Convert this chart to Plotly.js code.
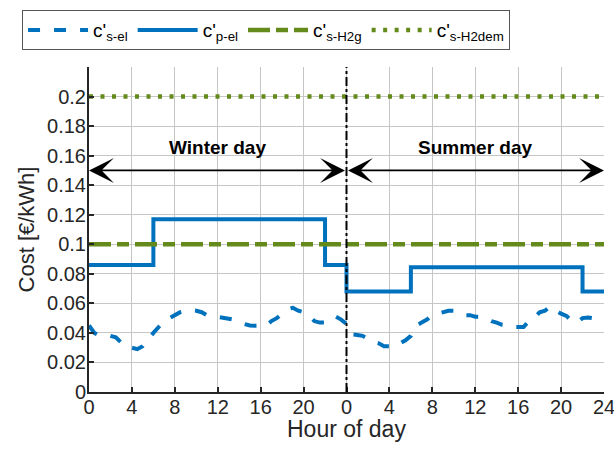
<!DOCTYPE html>
<html>
<head>
<meta charset="utf-8">
<script src="https://cdn.plot.ly/plotly-3.0.1.min.js"></script>
<style>html,body{margin:0;padding:0;background:#fff;}#chart{width:614px;height:458px;}</style>
</head>
<body>
<div id="chart"></div>
<script>
// ---- data ----
const halfHours = [0,0.5,1,1.5,2,2.5,3,3.5,4,4.5,5,5.5,6,6.5,7,7.5,8,8.5,9,9.5,10,10.5,11,11.5,
                   12,12.5,13,13.5,14,14.5,15,15.5,16,16.5,17,17.5,18,18.5,19,19.5,20,20.5,21,21.5,22,22.5,23,23.5];
const winterSpotEl = [0.045,0.040,0.038,0.038,0.038,0.037,0.033,0.030,0.030,0.029,0.031,0.035,
                      0.040,0.044,0.048,0.050,0.052,0.054,0.055,0.0555,0.055,0.054,0.052,0.0515,
                      0.051,0.0505,0.050,0.049,0.047,0.046,0.045,0.0448,0.0447,0.0447,0.048,0.050,
                      0.053,0.056,0.057,0.055,0.054,0.052,0.048,0.047,0.047,0.050,0.051,0.049];
const summerSpotEl = [0.046,0.039,0.0386,0.038,0.036,0.034,0.033,0.031,0.031,0.0305,0.033,0.035,
                      0.038,0.045,0.047,0.049,0.052,0.053,0.054,0.055,0.055,0.053,0.052,0.052,
                      0.051,0.051,0.050,0.048,0.047,0.0455,0.045,0.044,0.044,0.044,0.048,0.050,
                      0.054,0.055,0.058,0.055,0.053,0.0515,0.048,0.047,0.050,0.0505,0.050,0.045];
const dayLength = 24;
const peakHours = [0,6,22,24,30,46,48];
const peakEl = [0.086,0.117,0.086,0.068,0.0845,0.068,0.068];
const spotH2g = 0.1;
const spotH2dem = 0.2;
const tickHours = [0,4,8,12,16,20,24,28,32,36,40,44,48];
const tickHourLabels = ['0','4','8','12','16','20','0','4','8','12','16','20','24'];
const costTicks = [0,0.02,0.04,0.06,0.08,0.1,0.12,0.14,0.16,0.18,0.2];
const costTickLabels = ['0','0.02','0.04','0.06','0.08','0.1','0.12','0.14','0.16','0.18','0.2'];
const arrowLevel = 0.15;
const dayLabels = ['Winter day','Summer day'];
const dayLabelLevel = 0.1652;
const xTitle = 'Hour of day';
const yTitle = 'Cost [€/kWh]';

// ---- build ----
const spotX = halfHours.concat(halfHours.map(h => h + dayLength));
const spotY = winterSpotEl.concat(summerSpotEl);
const fullX = [0, 2*dayLength];

const blue = '#0072BD';
const green = '#638a1a';
const font = 'Liberation Sans, Arial, sans-serif';

const traces = [
  {x: spotX, y: spotY, type:'scatter', mode:'lines', name:"c'<sub>s-el</sub>",
   line:{color:blue, width:4, dash:'12px,14px'}},
  {x: peakHours, y: peakEl, type:'scatter', mode:'lines', name:"c'<sub>p-el</sub>",
   line:{color:blue, width:4, shape:'hv'}},
  {x: fullX, y: [spotH2g, spotH2g], type:'scatter', mode:'lines', name:"c'<sub>s-H2g</sub>",
   line:{color:green, width:4.5, dash:'22px,6px,12px,6px'}},
  {x: fullX, y: [spotH2dem, spotH2dem], type:'scatter', mode:'lines', name:"c'<sub>s-H2dem</sub>",
   line:{color:green, width:4.5, dash:'4px,7.5px'}}
];

const annotations = [
  {x: 0, y: arrowLevel, ax: dayLength, ay: arrowLevel, xref:'x', yref:'y', axref:'x', ayref:'y',
   text:'', showarrow:true, arrowhead:3, startarrowhead:3, arrowside:'end+start', arrowwidth:1.6, arrowsize:2.6, startarrowsize:2.6, arrowcolor:'#000'},
  {x: 2*dayLength, y: arrowLevel, ax: dayLength, ay: arrowLevel, xref:'x', yref:'y', axref:'x', ayref:'y',
   text:'', showarrow:true, arrowhead:3, startarrowhead:3, arrowside:'end+start', arrowwidth:1.6, arrowsize:2.6, startarrowsize:2.6, arrowcolor:'#000'},
  {x: dayLength/2, y: dayLabelLevel, xref:'x', yref:'y', text:'<b>'+dayLabels[0]+'</b>', showarrow:false,
   font:{family:font, size:19, color:'#000'}},
  {x: dayLength*1.5, y: dayLabelLevel, xref:'x', yref:'y', text:'<b>'+dayLabels[1]+'</b>', showarrow:false,
   font:{family:font, size:19, color:'#000'}},
  {x: 0.5, y: -0.1132, xref:'paper', yref:'paper', text: xTitle, showarrow:false,
   xanchor:'center', yanchor:'middle', font:{family:font, size:23, color:'#262626'}}
];

const layout = {
  width:614, height:458,
  margin:{l:89, r:10, t:67, b:66},
  paper_bgcolor:'#fff', plot_bgcolor:'#fff',
  font:{family:font, size:20, color:'#262626'},
  showlegend:true,
  legend:{orientation:'h', x:-0.13, xanchor:'left', y:1.175, yanchor:'top',
          bordercolor:'#555', borderwidth:1, bgcolor:'#fff', font:{size:19, color:'#000'},
          itemwidth:60, tracegroupgap:0},
  xaxis:{range:[0,48], tickvals:tickHours, ticktext:tickHourLabels,
         showgrid:true, gridcolor:'#c6c6c6', gridwidth:1, zeroline:false,
         showline:true, linecolor:'#262626', linewidth:2, ticks:'inside', ticklen:5, tickwidth:2, tickcolor:'#262626',
         tickfont:{size:20, color:'#262626'}, ticklabeloverflow:'allow', ticklabelstandoff:-4},
  yaxis:{range:[0,0.22], tickvals:costTicks, ticktext:costTickLabels,
         showgrid:true, gridcolor:'#c6c6c6', gridwidth:1, zeroline:false,
         showline:true, linecolor:'#262626', linewidth:2, ticks:'inside', ticklen:5, tickwidth:2, tickcolor:'#262626',
         tickfont:{size:20, color:'#262626'}, ticklabelstandoff:-3,
         title:{text: yTitle, font:{size:22, color:'#262626'}, standoff:6}},
  shapes:[{type:'line', xref:'x', yref:'paper', x0:dayLength, x1:dayLength, y0:0, y1:1,
           line:{color:'#000', width:2, dash:'dashdot'}}],
  annotations: annotations
};

Plotly.newPlot('chart', traces, layout, {displayModeBar:false, staticPlot:true});
</script>
</body>
</html>
